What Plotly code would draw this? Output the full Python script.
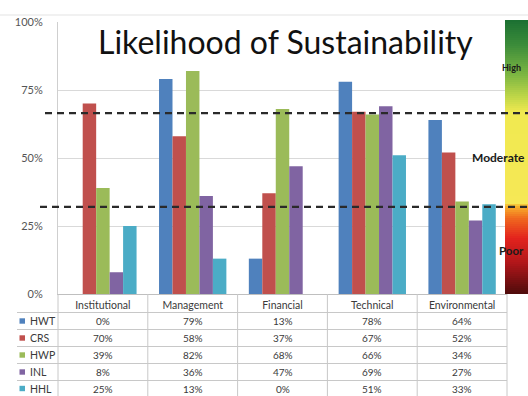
import plotly.graph_objects as go

categories = ["Institutional", "Management", "Financial", "Technical", "Environmental"]
series_names = ["HWT", "CRS", "HWP", "INL", "HHL"]
hwt = [0, 79, 13, 78, 64]
crs = [70, 58, 37, 67, 52]
hwp = [39, 82, 68, 66, 34]
inl = [8, 36, 47, 69, 27]
hhl = [25, 13, 0, 51, 33]
series_values = [hwt, crs, hwp, inl, hhl]
colors = ["#4F81BD", "#C0504D", "#9BBB59", "#8064A2", "#4BACC6"]
y_ticks = [0, 25, 50, 75, 100]
y_tick_labels = ["0%", "25%", "50%", "75%", "100%"]
thresholds = [32, 66.5]
zone_labels = ["High", "Moderate", "Poor"]
title_text = "Likelihood of Sustainability"

W, H = 528, 396
L, R, T, B = 58, 21, 22, 102
PW = W - L - R
PH = H - T - B
FONT = "Lato, 'Open Sans', sans-serif"


def px(xpix):
    return (xpix - L) / PW


def py(ypix):
    return (H - B - ypix) / PH


fig = go.Figure()
for name, vals, col in zip(series_names, series_values, colors):
    fig.add_trace(go.Bar(x=categories, y=vals, name=name, marker=dict(color=col, line=dict(width=0))))

shapes = []
annotations = []

# outer faint border line
shapes.append(dict(type="line", xref="paper", yref="paper", x0=px(0), x1=px(W), y0=py(15), y1=py(15),
                   line=dict(color="#e3e3e3", width=1), layer="above"))

# white title box covering top gridline
shapes.append(dict(type="rect", xref="paper", yref="paper", x0=px(95), x1=px(504), y0=py(26), y1=py(18),
                   fillcolor="white", line=dict(width=0), layer="above"))

# gradient bar (decoration)
grad_stops = [(20, (27, 112, 50)), (45, (60, 140, 58)), (75, (125, 182, 66)), (98, (195, 216, 72)),
              (112, (240, 233, 80)), (203, (246, 232, 86)), (206, (248, 181, 44)), (218, (240, 106, 31)),
              (238, (227, 35, 29)), (262, (179, 22, 26)), (294, (78, 11, 11))]


def grad_color(yp):
    for (y0, c0), (y1, c1) in zip(grad_stops[:-1], grad_stops[1:]):
        if y0 <= yp <= y1:
            t = (yp - y0) / (y1 - y0) if y1 > y0 else 0
            c = [round(a + (b - a) * t) for a, b in zip(c0, c1)]
            return "rgb(%d,%d,%d)" % tuple(c)
    return "rgb(%d,%d,%d)" % grad_stops[-1][1]


yy = 20
while yy < 294:
    shapes.append(dict(type="rect", xref="paper", yref="paper", x0=px(505), x1=px(535),
                       y0=py(min(yy + 2.6, 294)), y1=py(yy), fillcolor=grad_color(yy + 1),
                       line=dict(width=0), layer="above"))
    yy += 2

# dashed threshold lines
for thr, xs in zip(thresholds, [40, 45]):
    shapes.append(dict(type="line", xref="paper", yref="y", x0=px(xs), x1=px(535), y0=thr, y1=thr,
                       line=dict(color="#2a2a2a", width=2.2, dash="7px,5px"), layer="above"))

# zone labels on gradient
for lab, ypix, xpix, sz in zip(zone_labels, [68, 157, 250], [500, 470, 497], [9, 12, 11.5]):
    annotations.append(dict(text="<b>%s</b>" % lab, xref="paper", yref="paper", x=px(xpix), y=py(ypix),
                            xanchor="left", yanchor="middle", showarrow=False,
                            font=dict(family=FONT, size=sz, color="#1a1a1a")))

# title
annotations.append(dict(text=title_text, xref="paper", yref="paper", x=px(285), y=py(42),
                        xanchor="center", yanchor="middle", showarrow=False,
                        font=dict(family=FONT, size=32, color="#111111")))

# data table
row_y = [321, 338, 355, 372, 388.5]
h_lines = [312.5, 329.5, 346.5, 363.5, 380.5]
for hy in h_lines:
    shapes.append(dict(type="line", xref="paper", yref="paper", x0=px(17), x1=1, y0=py(hy), y1=py(hy),
                       line=dict(color="#c8c8c8", width=1)))
for k in range(len(categories) + 1):
    shapes.append(dict(type="line", xref="paper", yref="paper", x0=k / len(categories), x1=k / len(categories),
                       y0=py(294), y1=py(400), line=dict(color="#c8c8c8", width=1)))

for i, (name, vals, col) in enumerate(zip(series_names, series_values, colors)):
    ry = row_y[i]
    shapes.append(dict(type="rect", xref="paper", yref="paper", x0=px(19.5), x1=px(25),
                       y0=py(ry + 2.7), y1=py(ry - 2.7), fillcolor=col, line=dict(width=0)))
    annotations.append(dict(text=name, xref="paper", yref="paper", x=px(28), y=py(ry),
                            xanchor="left", yanchor="middle", showarrow=False,
                            font=dict(family=FONT, size=10.5, color="#3a3a3a")))
    for cat, v in zip(categories, vals):
        annotations.append(dict(text="%d%%" % v, xref="x", yref="paper", x=cat, y=py(ry),
                                xanchor="center", yanchor="middle", showarrow=False,
                                font=dict(family=FONT, size=10, color="#3a3a3a")))

fig.update_layout(
    width=W, height=H,
    margin=dict(l=L, r=R, t=T, b=B, pad=0),
    paper_bgcolor="white", plot_bgcolor="white",
    barmode="group", bargap=0.25, bargroupgap=0,
    showlegend=False,
    shapes=shapes, annotations=annotations,
    font=dict(family=FONT),
    xaxis=dict(range=[-0.5, 4.5], showticklabels=True, ticks="", showline=True, linecolor="#bfbfbf",
               linewidth=1, tickfont=dict(family=FONT, size=10.5, color="#3a3a3a"), ticklabelstandoff=1,
               showgrid=False, fixedrange=True),
    yaxis=dict(range=[0, 100], tickvals=y_ticks, ticktext=y_tick_labels, showgrid=True, gridcolor="#d9d9d9",
               gridwidth=1, zeroline=False, showline=True, linecolor="#cfcfcf", linewidth=1, ticks="",
               ticklabelstandoff=12, tickfont=dict(family=FONT, size=11, color="#555555"), fixedrange=True),
)

fig.write_html("out.html", config={"displayModeBar": False})
